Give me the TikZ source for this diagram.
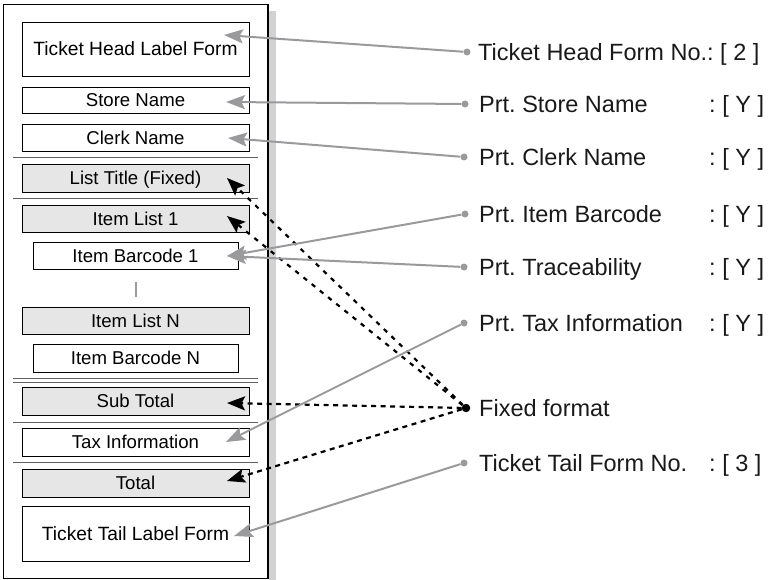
\documentclass[tikz,border=0pt]{standalone}
\usepackage{fontspec}
\setmainfont{Liberation Sans}
\usetikzlibrary{arrows.meta}
\definecolor{arrgray}{HTML}{9A9A9C}
\definecolor{boxgray}{HTML}{E6E6E7}
\definecolor{shadowgray}{HTML}{D2D2D4}
\definecolor{sepgray}{HTML}{606060}
\frenchspacing
\begin{document}
\begin{tikzpicture}[x=1pt,y=-1pt,
  box/.style={draw=black, line width=0.9pt, fill=white,
    font=\fontsize{18.6}{20}\selectfont, text height=13.3pt, text depth=0pt,
    inner sep=0pt, minimum width=227pt},
  bigbox/.style={box, font=\fontsize{19.2}{21}\selectfont, text height=13.7pt},
  gbox/.style={box, fill=boxgray},
  sep/.style={draw=sepgray, line width=0.8pt},
  lab/.style={anchor=base west, font=\fontsize{23.5}{26}\selectfont, inner sep=0pt, text=black!90},
  gdot/.style={circle, fill=arrgray, minimum size=7pt, inner sep=0pt},
  bdot/.style={circle, fill=black, minimum size=8.5pt, inner sep=0pt},
  garr/.style={draw=arrgray, line width=2pt, -{Stealth[length=19pt,width=14pt,inset=3.5pt]}},
  darr/.style={draw=black, line width=2.2pt, dash pattern=on 4.5pt off 6pt, -{Stealth[length=18pt,width=14pt,inset=3.5pt]}},
  harr/.style={darr, dash pattern=on 5pt off 4.5pt}
]
\useasboundingbox (0,0) rectangle (771,580);
% shadow and frame
\fill[shadowgray] (269,11) rectangle (276,580);
\draw[black, line width=1.1pt] (3.5,4.5) rectangle (268,578.5);

% boxes
\node[bigbox, minimum height=54pt] (head) at (135.5,49) {Ticket Head Label Form};
\node[box, minimum height=26pt] (store) at (135.5,100) {Store Name};
\node[box, minimum height=27pt] (clerk) at (135.5,137.5) {Clerk Name};
\node[gbox, minimum height=28pt] (ltitle) at (135.5,178) {List Title (Fixed)};
\node[gbox, minimum height=27pt] (ilist1) at (135.5,218.5) {Item List 1};
\node[box, minimum height=27pt, minimum width=205pt] (ibar1) at (135.5,255.5) {Item Barcode 1};
\node[gbox, minimum height=27pt] (ilistn) at (135.5,320.5) {Item List N};
\node[box, minimum height=28pt, minimum width=205pt] (ibarn) at (135.5,358) {Item Barcode N};
\node[gbox, minimum height=28pt] (subt) at (135.5,401) {Sub Total};
\node[box, minimum height=28pt] (tax) at (135.5,442) {Tax Information};
\node[gbox, minimum height=28pt] (total) at (135.5,483) {Total};
\node[bigbox, minimum height=55pt] (tail) at (135.5,533.5) {Ticket Tail Label Form};

% separators
\draw[sep] (13,157.5) -- (258,157.5);
\draw[sep] (13,198) -- (258,198);
\draw[sep] (13,378.5) -- (258,378.5);
\draw[sep] (13,382.5) -- (258,382.5);
\draw[sep] (13,422) -- (258,422);
\draw[sep] (13,462) -- (258,462);
\draw[draw=arrgray, line width=1.2pt] (136,282) -- (136,297);

% right-side dots
\node[gdot] (d1) at (467,52) {};
\node[gdot] (d2) at (465,104) {};
\node[gdot] (d3) at (464,157) {};
\node[gdot] (d4) at (465,214) {};
\node[gdot] (d5) at (464,267) {};
\node[gdot] (d6) at (464,323) {};
\node[bdot] (d7) at (466,408) {};
\node[gdot] (d8) at (464,463) {};

% arrow tips
\coordinate (t1) at (224,35);
\coordinate (t2) at (226,102);
\coordinate (t3) at (228,138);
\coordinate (t4) at (227,256);
\coordinate (t5) at (227,256);
\coordinate (t6) at (226,442);
\coordinate (t8) at (234,536);
\coordinate (f1) at (227,178);
\coordinate (f2) at (227,216);
\coordinate (f3) at (227,403);
\coordinate (f4) at (227,481);

% dashed black arrows
\draw[darr] (d7) -- (f1);
\draw[darr] (d7) -- (f2);
\draw[harr] (d7) -- (f3);
\draw[harr] (d7) -- (f4);

% gray arrows
\draw[garr] (d1) -- (t1);
\draw[garr] (d2) -- (t2);
\draw[garr] (d3) -- (t3);
\draw[garr] (d4) -- (t4);
\draw[garr] (d5) -- (t5);
\draw[garr] (d6) -- (t6);
\draw[garr] (d8) -- (t8);

% labels
\node[lab] (l1) at (478,60.4) {Ticket Head Form No.: [ 2 ]};
\node[lab] (l2) at (479,112.4) {Prt. Store Name};
\node[lab] (c2) at (709,112.4) {: [ Y ]};
\node[lab] (l3) at (479,165.4) {Prt. Clerk Name};
\node[lab] (c3) at (709,165.4) {: [ Y ]};
\node[lab] (l4) at (479,222.4) {Prt. Item Barcode};
\node[lab] (c4) at (709,222.4) {: [ Y ]};
\node[lab] (l5) at (479,275.4) {Prt. Traceability};
\node[lab] (c5) at (709,275.4) {: [ Y ]};
\node[lab] (l6) at (479,331.4) {Prt. Tax Information};
\node[lab] (c6) at (709,331.4) {: [ Y ]};
\node[lab] (l7) at (479,416.4) {Fixed format};
\node[lab] (l8) at (479,471.4) {Ticket Tail Form No.};
\node[lab] (c8) at (709,471.4) {: [ 3 ]};
\end{tikzpicture}
\end{document}
